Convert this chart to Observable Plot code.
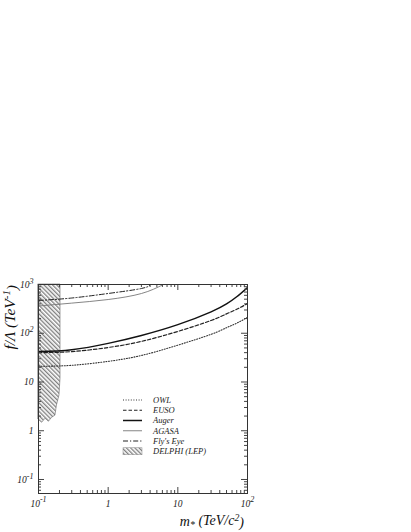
<!DOCTYPE html>
<html><head><meta charset="utf-8">
<script src="https://cdn.jsdelivr.net/npm/d3@7"></script>
<script src="https://cdn.jsdelivr.net/npm/@observablehq/plot@0.6"></script>
<style>body{margin:0;background:#fff;}</style>
</head><body><div id="chart"></div>
<script>
// ---- data ----
const owlMass   = [0.1, 0.3, 1, 3, 10, 30, 50, 70, 100];
const owlF      = [21, 22, 26.5, 35, 57, 95, 130, 161, 212];
const eusoMass  = [0.1, 0.3, 1, 3, 10, 30, 50, 70, 100];
const eusoF     = [40, 42, 51, 68, 109, 183, 250, 310, 407];
const augerMass = [0.1, 0.3, 1, 3, 10, 30, 50, 70, 100];
const augerF    = [42, 46, 62, 90, 150, 275, 400, 560, 870];
const agasaMass = [0.1, 0.3, 1, 3, 6.2];
const agasaF    = [362, 415, 492, 653, 1000];
const flysMass  = [0.1, 0.3, 1, 3, 4.05];
const flysF     = [470, 528, 654, 828, 1000];
const delphiMass = [0.1, 0.113, 0.126, 0.141, 0.157, 0.175, 0.184, 0.2, 0.207];
const delphiLow  = [1.69, 1.46, 1.77, 1.53, 1.85, 2.04, 3.3, 5.3, 11.8];
const delphiHigh = 1000;

const legendNames = ["OWL", "EUSO", "Auger", "AGASA", "Fly's Eye", "DELPHI (LEP)"];
const xMajor = [0.1, 1, 10, 100];
const xMajorLabels = ["10^-1", "1", "10", "10^2"];
const yMajor = [0.1, 1, 10, 100, 1000];
const yMajorLabels = ["10^-1", "1", "10", "10^2", "10^3"];
const minorDigits = [2, 3, 4, 5, 6, 7, 8, 9];
const xMinor = [0.1, 1, 10].flatMap(d => minorDigits.map(k => k * d));
const yMinor = [0.01, 0.1, 1, 10, 100].flatMap(d => minorDigits.map(k => k * d)).filter(v => v > 0.052 && v < 1000);

const xDomain = [0.1, 100];
const yDomain = [0.0516, 1000];

// ---- styles ----
const styles = {
  "OWL":   {stroke: "#333", strokeWidth: 1.1, strokeDasharray: "1,1.6"},
  "EUSO":  {stroke: "#222", strokeWidth: 1.2, strokeDasharray: "3.5,2"},
  "Auger": {stroke: "#111", strokeWidth: 1.5, strokeDasharray: null},
  "AGASA": {stroke: "#777", strokeWidth: 0.9, strokeDasharray: null},
  "Fly's Eye": {stroke: "#222", strokeWidth: 1, strokeDasharray: "5,2,1.2,2"}
};

const toRows = (ms, fs) => ms.map((m, i) => ({m, f: fs[i]}));
const series = [
  ["OWL", toRows(owlMass, owlF)],
  ["EUSO", toRows(eusoMass, eusoF)],
  ["Auger", toRows(augerMass, augerF)],
  ["AGASA", toRows(agasaMass, agasaF)],
  ["Fly's Eye", toRows(flysMass, flysF)]
];
const delphi = delphiMass.map((m, i) => ({m, lo: delphiLow[i], hi: delphiHigh}));

const W = 411, H = 532, ML = 38, MR = 164, MT = 284, MB = 39;
const innerW = W - ML - MR, innerH = H - MT - MB;
const tickCol = "#444";

const plot = Plot.plot({
  width: W, height: H,
  marginLeft: ML, marginRight: MR, marginTop: MT, marginBottom: MB,
  style: {fontFamily: "'Liberation Serif', serif", fontStyle: "italic", background: "#fff", color: "#222"},
  x: {type: "log", domain: xDomain, axis: null},
  y: {type: "log", domain: yDomain, axis: null},
  marks: [
    Plot.areaY(delphi, {x: "m", y1: "lo", y2: "hi", fill: "url(#hatch)", stroke: "#666", strokeWidth: 0.6, curve: "linear"}),
    ...series.map(([name, rows]) => Plot.line(rows, {x: "m", y: "f", curve: "natural", clip: true, ...styles[name]})),
    // inward ticks on all four sides
    Plot.tickX(xMajor, {x: d => d, insetTop: innerH - 6, stroke: tickCol}),
    Plot.tickX(xMinor, {x: d => d, insetTop: innerH - 3, stroke: tickCol}),
    Plot.tickX(xMajor, {x: d => d, insetBottom: innerH - 6, stroke: tickCol}),
    Plot.tickX(xMinor, {x: d => d, insetBottom: innerH - 3, stroke: tickCol}),
    Plot.tickY(yMajor, {y: d => d, insetRight: innerW - 6, stroke: tickCol}),
    Plot.tickY(yMinor, {y: d => d, insetRight: innerW - 3, stroke: tickCol}),
    Plot.tickY(yMajor, {y: d => d, insetLeft: innerW - 6, stroke: tickCol}),
    Plot.tickY(yMinor, {y: d => d, insetLeft: innerW - 3, stroke: tickCol}),
    // tick labels
    Plot.text(xMajor, {x: d => d, frameAnchor: "bottom", dy: 13, text: (d, i) => xMajorLabels[i], fontSize: 9.5, fill: "#222"}),
    Plot.text(yMajor, {y: d => d, frameAnchor: "left", dx: -5, textAnchor: "end", text: (d, i) => yMajorLabels[i], fontSize: 9.5, fill: "#222"}),
    Plot.frame({stroke: "#333"})
  ]
});

const svg = d3.select(plot);
// hatch pattern
const defs = svg.insert("defs", ":first-child");
const pat = defs.append("pattern").attr("id", "hatch").attr("patternUnits", "userSpaceOnUse")
  .attr("width", 3).attr("height", 3).attr("patternTransform", "rotate(-45)");
pat.append("rect").attr("width", 3).attr("height", 3).attr("fill", "#fff");
pat.append("line").attr("x1", 0.75).attr("y1", 0).attr("x2", 0.75).attr("y2", 3)
  .attr("stroke", "#555").attr("stroke-width", 1);

// superscripts in tick labels
svg.selectAll("text").each(function () {
  const t = d3.select(this);
  const s = t.text();
  const m = s.match(/^10\^(.+)$/);
  if (m) {
    t.text(null);
    t.append("tspan").text("10");
    t.append("tspan").attr("dy", "-0.5em").attr("font-size", "0.85em").text(m[1]);
  }
});

// legend
const lg = svg.append("g").attr("font-size", 8.5).attr("font-style", "italic").attr("fill", "#222")
  .attr("text-anchor", "start");
legendNames.forEach((name, i) => {
  const y = 400 + i * 10.25;
  if (styles[name]) {
    const st = styles[name];
    lg.append("line").attr("x1", 123).attr("x2", 142).attr("y1", y).attr("y2", y)
      .attr("stroke", st.stroke).attr("stroke-width", st.strokeWidth)
      .attr("stroke-dasharray", st.strokeDasharray);
  } else {
    lg.append("rect").attr("x", 123).attr("y", y - 3.5).attr("width", 19).attr("height", 7)
      .attr("fill", "url(#hatch)").attr("stroke", "#888").attr("stroke-width", 0.5);
  }
  lg.append("text").attr("x", 153).attr("y", y).attr("dy", "0.33em").attr("text-anchor", "start").text(name);
});

// axis titles
const xt = svg.append("text").attr("x", 244).attr("y", 526).attr("text-anchor", "end")
  .attr("font-size", 14).attr("font-style", "italic").attr("fill", "#111");
xt.append("tspan").text("m");
xt.append("tspan").attr("dy", "0.25em").attr("font-size", "0.7em").text("*");
xt.append("tspan").attr("dy", "-0.25em").text(" (TeV/c");
xt.append("tspan").attr("dy", "-0.45em").attr("font-size", "0.7em").text("2");
xt.append("tspan").attr("dy", "0.45em").text(")");

const yt = svg.append("text").attr("transform", "translate(15,285) rotate(-90)").attr("text-anchor", "end")
  .attr("font-size", 15.5).attr("font-style", "italic").attr("fill", "#111");
yt.append("tspan").text("f/Λ (TeV");
yt.append("tspan").attr("dy", "-0.45em").attr("font-size", "0.7em").text("-1");
yt.append("tspan").attr("dy", "0.45em").text(")");

document.getElementById("chart").appendChild(plot);
</script>
</body></html>
